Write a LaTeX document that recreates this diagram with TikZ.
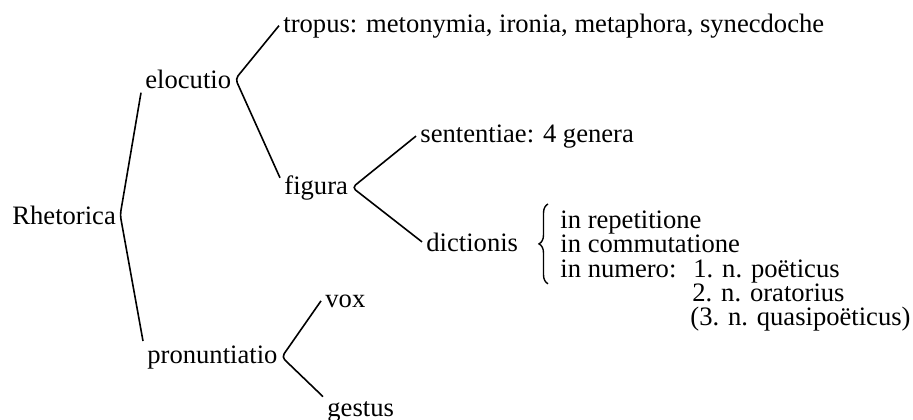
\documentclass[tikz,border=0pt]{standalone}
\usepackage{fontspec}
\setmainfont{Liberation Serif}
\usetikzlibrary{decorations.pathreplacing}
\tikzstyle{txt}=[anchor=base west, inner sep=2pt, font=\fontsize{13.3}{15}\selectfont]
\tikzstyle{br}=[line width=.8pt, rounded corners=2pt]

\begin{document}
\begin{tikzpicture}[x=.5pt, y=-.5pt]
\useasboundingbox (0,0) rectangle (913,419);
%\draw[help lines,step=50] (0,0) grid (913,419);
\node at (8,224)[txt](rhet){Rhetorica};
\node at (141,88)[txt](eloc){elocutio};
\node at (143,363)[txt](pron){pronuntiatio};
\node at (279,32)[txt](trop){tropus: metonymia, ironia, metaphora, synecdoche};
\node at (280,194)[txt](fig){figura};
\node at (416,142)[txt](sent){sententiae: 4 genera};
\node at (422,251)[txt](dict){dictionis};
\node at (556,228)[txt](rep){in repetitione};
\node at (556,252)[txt](comm){in commutatione};
\node at (556,277)[txt](num){in numero:};
\node at (689,277)[txt](n1){1. n. poëticus};
\node at (688,301)[txt](n2){2. n. oratorius};
\node at (686,325)[txt](n3){(3. n. quasipoëticus)};
\node at (321,307)[txt](vox){vox};
\node at (323,416)[txt](gest){gestus};
\draw[br] (eloc.south west)--(rhet.east)--(pron.north west);
\draw[br] (trop.west)--(eloc.east)--(fig.165);
\draw[br] (sent.west)--(fig.east)--(dict.west);
\draw[br] (vox.west)--(pron.east)--(gest.north west);
% brace round the three kinds
\draw[line width=.7pt, decorate, decoration={brace, amplitude=4.5pt}] ([xshift=-4pt,yshift=-1pt]num.south west)--([xshift=-4pt,yshift=1pt]rep.north west);
\end{tikzpicture}
\end{document}
